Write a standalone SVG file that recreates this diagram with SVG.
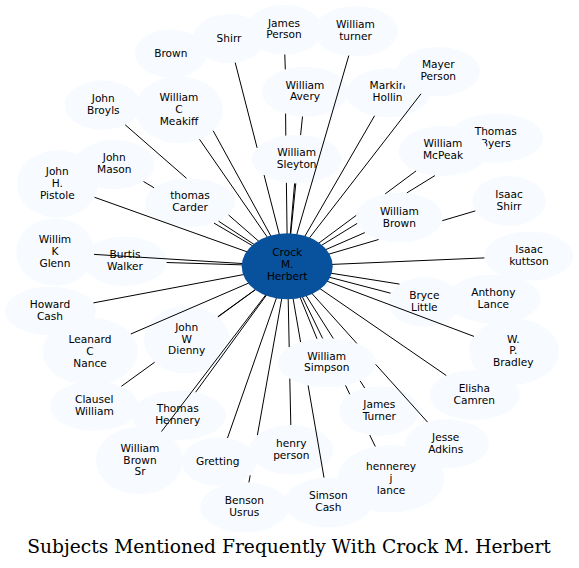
<svg xmlns="http://www.w3.org/2000/svg" width="579" height="568" viewBox="0 0 579 568">
<style>
.node ellipse{fill:#f7fbff;stroke:none}
.center ellipse{fill:#08519c;stroke:none}
text{font-family:"DejaVu Sans",Verdana,sans-serif;font-size:10.6px;fill:#000;text-anchor:middle}
.edges path{fill:none;stroke:#000;stroke-width:1}
.title{font-family:"DejaVu Serif",serif;font-size:18.67px}
</style>
<rect width="579" height="568" fill="#fff"/>
<g id="nodes">
<g id="n_brown" class="node"><ellipse cx="170.8" cy="53.5" rx="36" ry="24"/><text x="170.8" y="57.1">Brown</text></g>
<g id="n_shirr" class="node"><ellipse cx="229" cy="38.5" rx="36" ry="24.5"/><text x="229" y="41.5">Shirr</text></g>
<g id="n_jperson" class="node"><ellipse cx="284.5" cy="29.7" rx="37.5" ry="25"/><text x="284" y="26.6">James</text><text x="284" y="38.4">Person</text></g>
<g id="n_wturner" class="node"><ellipse cx="356" cy="31.2" rx="42" ry="25"/><text x="355.5" y="28.1">William</text><text x="355.5" y="39.9">turner</text></g>
<g id="n_wavery" class="node"><ellipse cx="305" cy="91.7" rx="43" ry="25"/><text x="305" y="88.6">William</text><text x="305" y="100.4">Avery</text></g>
<g id="n_markin" class="node"><ellipse cx="388" cy="92.8" rx="42" ry="24.5"/><text x="387.5" y="89.4">Markin</text><text x="387.5" y="101.2">Hollin</text></g>
<g id="n_mayer" class="node"><ellipse cx="438.3" cy="71.5" rx="41.7" ry="24.5"/><text x="438.3" y="68.2">Mayer</text><text x="438.3" y="80">Person</text></g>
<g id="n_meakiff" class="node"><ellipse cx="179" cy="109.7" rx="44" ry="33.5"/><text x="179" y="101.2">William</text><text x="179" y="113">C</text><text x="179" y="124.8">Meakiff</text></g>
<g id="n_broyls" class="node"><ellipse cx="102.5" cy="105" rx="38" ry="24.7"/><text x="103.3" y="102.1">John</text><text x="103.3" y="113.9">Broyls</text></g>
<g id="n_sleyton" class="node"><ellipse cx="296.7" cy="159.2" rx="45" ry="24.2"/><text x="296.7" y="156.1">William</text><text x="296.7" y="167.9">Sleyton</text></g>
<g id="n_tbyers" class="node"><ellipse cx="496" cy="138" rx="47" ry="24.7"/><text x="495.7" y="134.7">Thomas</text><text x="495.7" y="146.5">Byers</text></g>
<g id="n_mcpeak" class="node"><ellipse cx="443" cy="151" rx="44.5" ry="25"/><text x="443" y="147.4">William</text><text x="443" y="159.2">McPeak</text></g>
<g id="n_jmason" class="node"><ellipse cx="114.5" cy="164.5" rx="40" ry="24.7"/><text x="114.3" y="161.4">John</text><text x="114.3" y="173.2">Mason</text></g>
<g id="n_pistole" class="node"><ellipse cx="57.3" cy="184" rx="40.6" ry="33.8"/><text x="57.3" y="175.3">John</text><text x="57.3" y="187.1">H.</text><text x="57.3" y="198.9">Pistole</text></g>
<g id="n_carder" class="node"><ellipse cx="190" cy="202.5" rx="45" ry="24.3"/><text x="190" y="199.4">thomas</text><text x="190" y="211.2">Carder</text></g>
<g id="n_ishirr" class="node"><ellipse cx="509" cy="201" rx="36.7" ry="25"/><text x="509" y="198.4">Isaac</text><text x="509" y="210.2">Shirr</text></g>
<g id="n_wbrown" class="node"><ellipse cx="399.3" cy="217.5" rx="43.3" ry="25"/><text x="399.3" y="214.7">William</text><text x="399.3" y="226.5">Brown</text></g>
<g id="n_glenn" class="node"><ellipse cx="55.2" cy="252" rx="39" ry="33.8"/><text x="55" y="242.9">Willim</text><text x="55" y="254.7">K</text><text x="55" y="266.5">Glenn</text></g>
<g id="n_burtis" class="node"><ellipse cx="124.7" cy="261.2" rx="42" ry="24.7"/><text x="125" y="258.1">Burtis</text><text x="125" y="269.9">Walker</text></g>
<g id="n_kuttson" class="node"><ellipse cx="528.8" cy="256" rx="44.5" ry="24.5"/><text x="529" y="252.9">Isaac</text><text x="529" y="264.7">kuttson</text></g>
<g id="n_hcash" class="node"><ellipse cx="50.5" cy="311" rx="45.5" ry="24.3"/><text x="50" y="308.1">Howard</text><text x="50" y="319.9">Cash</text></g>
<g id="n_alance" class="node"><ellipse cx="493.7" cy="299" rx="47" ry="24.5"/><text x="493.3" y="296.1">Anthony</text><text x="493.3" y="307.9">Lance</text></g>
<g id="n_bryce" class="node"><ellipse cx="424.3" cy="302" rx="36" ry="24.7"/><text x="424.3" y="298.9">Bryce</text><text x="424.3" y="310.7">Little</text></g>
<g id="n_nance" class="node"><ellipse cx="90.2" cy="351.5" rx="47.5" ry="33.8"/><text x="90" y="343">Leanard</text><text x="90" y="354.8">C</text><text x="90" y="366.6">Nance</text></g>
<g id="n_dienny" class="node"><ellipse cx="186.7" cy="339.8" rx="42.7" ry="33.8"/><text x="186.7" y="330.7">John</text><text x="186.7" y="342.5">W</text><text x="186.7" y="354.3">Dienny</text></g>
<g id="n_bradley" class="node"><ellipse cx="514" cy="351.5" rx="45" ry="33"/><text x="513.3" y="342.6">W.</text><text x="513.3" y="354.4">P.</text><text x="513.3" y="366.2">Bradley</text></g>
<g id="n_elisha" class="node"><ellipse cx="474.7" cy="395" rx="45.3" ry="25"/><text x="474.3" y="391.9">Elisha</text><text x="474.3" y="403.7">Camren</text></g>
<g id="n_clausel" class="node"><ellipse cx="94.2" cy="406" rx="44.2" ry="25"/><text x="94.3" y="402.9">Clausel</text><text x="94.3" y="414.7">William</text></g>
<g id="n_hennery" class="node"><ellipse cx="178.8" cy="415.3" rx="47.2" ry="24.7"/><text x="177.7" y="411.9">Thomas</text><text x="177.7" y="423.7">Hennery</text></g>
<g id="n_jturner" class="node"><ellipse cx="379.3" cy="411" rx="40" ry="24.7"/><text x="379.3" y="407.9">James</text><text x="379.3" y="419.7">Turner</text></g>
<g id="n_adkins" class="node"><ellipse cx="447" cy="443.8" rx="42" ry="24.5"/><text x="445.7" y="441.1">Jesse</text><text x="445.7" y="452.9">Adkins</text></g>
<g id="n_brownsr" class="node"><ellipse cx="139.3" cy="460.5" rx="43.3" ry="33.8"/><text x="140" y="451.8">William</text><text x="140" y="463.6">Brown</text><text x="140" y="475.4">Sr</text></g>
<g id="n_gretting" class="node"><ellipse cx="219.2" cy="461.7" rx="37.5" ry="24.3"/><text x="217.7" y="464.8">Gretting</text></g>
<g id="n_hperson" class="node"><ellipse cx="291.3" cy="449.7" rx="42" ry="24.7"/><text x="291.3" y="446.9">henry</text><text x="291.3" y="458.7">person</text></g>
<g id="n_jlance" class="node"><ellipse cx="391" cy="478.8" rx="53.3" ry="33.8"/><text x="391" y="470">hennerey</text><text x="391" y="481.8">j</text><text x="391" y="493.6">lance</text></g>
<g id="n_benson" class="node"><ellipse cx="244.5" cy="507.3" rx="44.5" ry="25"/><text x="244.3" y="504.4">Benson</text><text x="244.3" y="516.2">Usrus</text></g>
<g id="n_scash" class="node"><ellipse cx="328.3" cy="502.5" rx="44" ry="25"/><text x="328.3" y="499.4">Simson</text><text x="328.3" y="511.2">Cash</text></g>
<g id="n_simpson" class="node"><ellipse cx="326.8" cy="362.8" rx="49" ry="24.5"/><text x="326.7" y="359.6">William</text><text x="326.7" y="371.4">Simpson</text></g>
</g>
<g id="connectors" class="edges">
<path d="M287.5 266.3L213.2 130.8"/>
<path d="M287.5 266.3L264.1 175.1M257.1 147.8L235.2 62.6"/>
<path d="M287.5 266.3L286.4 182.8M285.8 135.6L285.6 113.6M285.3 69.4L284.8 54.5"/>
<path d="M287.5 266.3L348.8 55.6"/>
<path d="M287.5 266.3L295.8 183.4M300.6 135.1L302.5 116.5"/>
<path d="M287.5 266.3L374.6 115.7"/>
<path d="M287.5 266.3L421 93.8"/>
<path d="M287.5 266.3L199.5 139.3"/>
<path d="M287.5 266.3L228.6 215M186.5 178.3L125.2 124.8"/>
<path d="M287.5 266.3L294.6 183.4"/>
<path d="M287.5 266.3L356.2 215.4M385.2 193.9L416.1 170.9"/>
<path d="M287.5 266.3L357.2 223.4M406.8 192.9L434.9 175.6"/>
<path d="M287.5 266.3L214 223.1M154.1 187.8L143.5 181.5"/>
<path d="M287.5 266.3L94.6 197.3"/>
<path d="M287.5 266.3L218.6 221.2"/>
<path d="M287.5 266.3L378.6 239.5M442.3 220.7L475.3 210.9"/>
<path d="M287.5 266.3L364.8 232.6"/>
<path d="M287.5 266.3L94.1 254.4"/>
<path d="M287.5 266.3L166.6 262.5"/>
<path d="M287.5 266.3L484.4 257.9"/>
<path d="M287.5 266.3L93.4 302.9"/>
<path d="M287.5 266.3L390.6 293.2"/>
<path d="M287.5 266.3L399.5 284.1"/>
<path d="M287.5 266.3L130.8 334"/>
<path d="M287.5 266.3L218.1 316.9"/>
<path d="M287.5 266.3L474 336.4"/>
<path d="M287.5 266.3L317 338.8"/>
<path d="M287.5 266.3L446.3 375.5"/>
<path d="M287.5 266.3L217.8 316.7M154.7 362.2L121.4 386.3"/>
<path d="M287.5 266.3L195.6 392.2"/>
<path d="M287.5 266.3L333.3 338.5M360.1 380.8L364.7 388"/>
<path d="M287.5 266.3L356.8 343.4M375.7 364.4L427.5 422.1"/>
<path d="M287.5 266.3L161.5 431.5"/>
<path d="M287.5 266.3L227.5 438"/>
<path d="M287.5 266.3L289.2 347.1M289.8 378.6L290.8 425"/>
<path d="M287.5 266.3L322.6 338.4M345.5 385.4L349.8 394.3M369.7 435L375.3 446.5"/>
<path d="M287.5 266.3L257.4 435.1M250.2 475.4L248.9 482.4"/>
<path d="M287.5 266.3L300.6 342.1M308.1 385.4L324 477.6"/>
</g>
<g id="n_center" class="center"><ellipse cx="287.2" cy="266.3" rx="45.5" ry="33"/><text x="287.2" y="256.2">Crock</text><text x="287.2" y="268">M.</text><text x="287.2" y="279.8">Herbert</text></g>
<text class="title" x="289" y="553">Subjects Mentioned Frequently With Crock M. Herbert</text>
</svg>
